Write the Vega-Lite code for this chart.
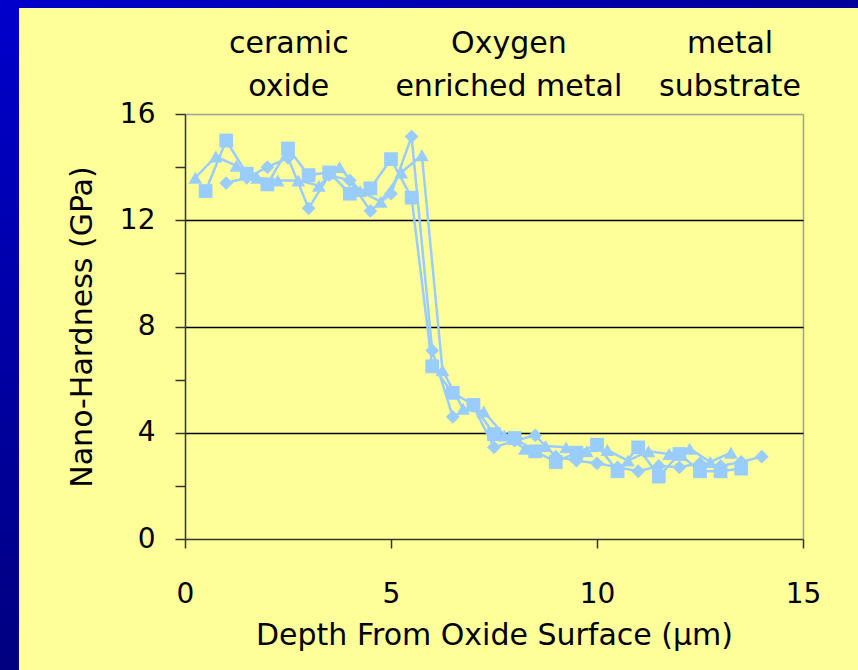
{
  "$schema": "https://vega.github.io/schema/vega-lite/v6.json",
  "width": 618,
  "height": 425,
  "autosize": {"type": "none"},
  "padding": {"left": 185, "top": 114, "right": 55, "bottom": 131},
  "background": "#FFFF99",
  "config": {
    "view": {"stroke": null},
    "font": "DejaVu Sans",
    "axis": {"titleFontWeight": "normal", "labelColor": "#000000", "titleColor": "#000000"}
  },
  "datasets": {
    "hardness": [
      {"run": "Run 1", "depth": 1.0, "hardness": 13.4},
      {"run": "Run 1", "depth": 1.5, "hardness": 13.6},
      {"run": "Run 1", "depth": 2.0, "hardness": 14.0},
      {"run": "Run 1", "depth": 2.5, "hardness": 14.35},
      {"run": "Run 1", "depth": 3.0, "hardness": 12.45},
      {"run": "Run 1", "depth": 3.5, "hardness": 13.7},
      {"run": "Run 1", "depth": 4.0, "hardness": 13.5},
      {"run": "Run 1", "depth": 4.5, "hardness": 12.35},
      {"run": "Run 1", "depth": 5.0, "hardness": 13.0},
      {"run": "Run 1", "depth": 5.5, "hardness": 15.15},
      {"run": "Run 1", "depth": 6.0, "hardness": 7.1},
      {"run": "Run 1", "depth": 6.5, "hardness": 4.6},
      {"run": "Run 1", "depth": 7.0, "hardness": 5.0},
      {"run": "Run 1", "depth": 7.5, "hardness": 3.45},
      {"run": "Run 1", "depth": 8.0, "hardness": 3.7},
      {"run": "Run 1", "depth": 8.5, "hardness": 3.9},
      {"run": "Run 1", "depth": 9.0, "hardness": 3.1},
      {"run": "Run 1", "depth": 9.5, "hardness": 2.95},
      {"run": "Run 1", "depth": 10.0, "hardness": 2.85},
      {"run": "Run 1", "depth": 10.5, "hardness": 2.7},
      {"run": "Run 1", "depth": 11.0, "hardness": 2.55},
      {"run": "Run 1", "depth": 11.5, "hardness": 2.75},
      {"run": "Run 1", "depth": 12.0, "hardness": 2.7},
      {"run": "Run 1", "depth": 12.5, "hardness": 2.85},
      {"run": "Run 1", "depth": 13.0, "hardness": 2.75},
      {"run": "Run 1", "depth": 13.5, "hardness": 2.9},
      {"run": "Run 1", "depth": 14.0, "hardness": 3.1},
      {"run": "Run 2", "depth": 0.5, "hardness": 13.1},
      {"run": "Run 2", "depth": 1.0, "hardness": 15.0},
      {"run": "Run 2", "depth": 1.5, "hardness": 13.75},
      {"run": "Run 2", "depth": 2.0, "hardness": 13.35},
      {"run": "Run 2", "depth": 2.5, "hardness": 14.7},
      {"run": "Run 2", "depth": 3.0, "hardness": 13.7},
      {"run": "Run 2", "depth": 3.5, "hardness": 13.8},
      {"run": "Run 2", "depth": 4.0, "hardness": 13.0},
      {"run": "Run 2", "depth": 4.5, "hardness": 13.2},
      {"run": "Run 2", "depth": 5.0, "hardness": 14.3},
      {"run": "Run 2", "depth": 5.5, "hardness": 12.85},
      {"run": "Run 2", "depth": 6.0, "hardness": 6.5},
      {"run": "Run 2", "depth": 6.5, "hardness": 5.5},
      {"run": "Run 2", "depth": 7.0, "hardness": 5.05},
      {"run": "Run 2", "depth": 7.5, "hardness": 3.95},
      {"run": "Run 2", "depth": 8.0, "hardness": 3.8},
      {"run": "Run 2", "depth": 8.5, "hardness": 3.3},
      {"run": "Run 2", "depth": 9.0, "hardness": 2.9},
      {"run": "Run 2", "depth": 9.5, "hardness": 3.25},
      {"run": "Run 2", "depth": 10.0, "hardness": 3.55},
      {"run": "Run 2", "depth": 10.5, "hardness": 2.55},
      {"run": "Run 2", "depth": 11.0, "hardness": 3.45},
      {"run": "Run 2", "depth": 11.5, "hardness": 2.35},
      {"run": "Run 2", "depth": 12.0, "hardness": 3.2},
      {"run": "Run 2", "depth": 12.5, "hardness": 2.55},
      {"run": "Run 2", "depth": 13.0, "hardness": 2.55},
      {"run": "Run 2", "depth": 13.5, "hardness": 2.65},
      {"run": "Run 3", "depth": 0.25, "hardness": 13.6},
      {"run": "Run 3", "depth": 0.75, "hardness": 14.4},
      {"run": "Run 3", "depth": 1.25, "hardness": 14.05},
      {"run": "Run 3", "depth": 1.75, "hardness": 13.6},
      {"run": "Run 3", "depth": 2.25, "hardness": 13.5},
      {"run": "Run 3", "depth": 2.75, "hardness": 13.5},
      {"run": "Run 3", "depth": 3.25, "hardness": 13.3},
      {"run": "Run 3", "depth": 3.75, "hardness": 14.0},
      {"run": "Run 3", "depth": 4.25, "hardness": 13.1},
      {"run": "Run 3", "depth": 4.75, "hardness": 12.7},
      {"run": "Run 3", "depth": 5.25, "hardness": 13.8},
      {"run": "Run 3", "depth": 5.75, "hardness": 14.45},
      {"run": "Run 3", "depth": 6.25, "hardness": 6.35},
      {"run": "Run 3", "depth": 6.75, "hardness": 4.9},
      {"run": "Run 3", "depth": 7.25, "hardness": 4.8},
      {"run": "Run 3", "depth": 7.75, "hardness": 3.9},
      {"run": "Run 3", "depth": 8.25, "hardness": 3.4},
      {"run": "Run 3", "depth": 8.75, "hardness": 3.5},
      {"run": "Run 3", "depth": 9.25, "hardness": 3.45},
      {"run": "Run 3", "depth": 9.75, "hardness": 3.3},
      {"run": "Run 3", "depth": 10.25, "hardness": 3.35},
      {"run": "Run 3", "depth": 10.75, "hardness": 2.95},
      {"run": "Run 3", "depth": 11.25, "hardness": 3.3},
      {"run": "Run 3", "depth": 11.75, "hardness": 3.2},
      {"run": "Run 3", "depth": 12.25, "hardness": 3.4},
      {"run": "Run 3", "depth": 12.75, "hardness": 2.9},
      {"run": "Run 3", "depth": 13.25, "hardness": 3.25}
    ],
    "regions": [
      {"depth": 2.52, "label": ["ceramic", "oxide"]},
      {"depth": 7.86, "label": ["Oxygen", "enriched metal"]},
      {"depth": 13.23, "label": ["metal", "substrate"]}
    ]
  },
  "layer": [
    {
      "data": {"name": "hardness"},
      "mark": {"type": "line", "color": "#99CCFF", "strokeWidth": 2.5},
      "encoding": {
        "x": {
          "field": "depth", "type": "quantitative",
          "scale": {"domain": [0, 15], "nice": false},
          "axis": {
            "values": [0, 5, 10, 15],
            "title": "Depth From Oxide Surface (μm)",
            "labelFontSize": 28, "titleFontSize": 30,
            "tickSize": 9, "tickColor": "#333333", "tickWidth": 1.5,
            "domainColor": "#333333", "domainWidth": 1.5,
            "labelPadding": 32, "titlePadding": 12, "labelFlush": false,
            "grid": true, "gridColor": "#A0A0A0", "gridWidth": 1.5,
            "gridOpacity": {"condition": {"test": "datum.value === 15", "value": 1}, "value": 0}
          }
        },
        "y": {
          "field": "hardness", "type": "quantitative",
          "scale": {"domain": [0, 16], "nice": false},
          "axis": {
            "values": [0, 2, 4, 6, 8, 10, 12, 14, 16],
            "labelExpr": "datum.value % 4 === 0 ? datum.label : ''",
            "title": "Nano-Hardness (GPa)",
            "labelFontSize": 28, "titleFontSize": 30,
            "tickSize": 10, "tickColor": "#333333", "tickWidth": 1.5,
            "domainColor": "#333333", "domainWidth": 1.5,
            "labelPadding": 20, "titlePadding": 22, "labelFlush": false,
            "grid": true, "gridWidth": 1.5,
            "gridColor": {"condition": {"test": "datum.value === 16", "value": "#A0A0A0"}, "value": "#000000"},
            "gridOpacity": {"condition": {"test": "datum.value % 4 === 0 && datum.value > 0", "value": 1}, "value": 0}
          }
        },
        "detail": {"field": "run", "type": "nominal"}
      }
    },
    {
      "data": {"name": "hardness"},
      "mark": {"type": "point", "filled": true, "opacity": 1, "color": "#99CCFF", "size": 190},
      "encoding": {
        "x": {"field": "depth", "type": "quantitative", "scale": {"domain": [0, 15], "nice": false}},
        "y": {"field": "hardness", "type": "quantitative", "scale": {"domain": [0, 16], "nice": false}},
        "shape": {
          "field": "run", "type": "nominal",
          "scale": {"domain": ["Run 1", "Run 2", "Run 3"], "range": ["diamond", "square", "triangle-up"]},
          "legend": null
        }
      }
    },
    {
      "data": {"name": "regions"},
      "mark": {"type": "text", "fontSize": 30, "lineHeight": 43, "align": "center", "baseline": "middle", "color": "#000000", "clip": false},
      "encoding": {
        "x": {"field": "depth", "type": "quantitative", "scale": {"domain": [0, 15], "nice": false}},
        "y": {"datum": 18.63, "type": "quantitative", "scale": {"domain": [0, 16], "nice": false}},
        "text": {"field": "label"}
      }
    },
    {
      "data": {"values": [{}]},
      "mark": {"type": "rect", "clip": false, "strokeWidth": 0,
        "fill": {"gradient": "linear", "x1": 0, "y1": 0, "x2": 0, "y2": 1,
          "stops": [{"offset": 0, "color": "#0000CC"}, {"offset": 1, "color": "#000080"}]}},
      "encoding": {
        "x": {"datum": -4.6, "type": "quantitative", "scale": {"domain": [0, 15], "nice": false}},
        "x2": {"datum": -4.03},
        "y": {"datum": -5.0, "type": "quantitative", "scale": {"domain": [0, 16], "nice": false}},
        "y2": {"datum": 20.4}
      }
    },
    {
      "data": {"values": [{}]},
      "mark": {"type": "rect", "clip": false, "strokeWidth": 0,
        "fill": {"gradient": "linear", "x1": 0, "y1": 0, "x2": 1, "y2": 0,
          "stops": [{"offset": 0, "color": "#0000CC"}, {"offset": 1, "color": "#000099"}]}},
      "encoding": {
        "x": {"datum": -4.6, "type": "quantitative", "scale": {"domain": [0, 15], "nice": false}},
        "x2": {"datum": 16.5},
        "y": {"datum": 19.99, "type": "quantitative", "scale": {"domain": [0, 16], "nice": false}},
        "y2": {"datum": 20.4}
      }
    }
  ]
}
